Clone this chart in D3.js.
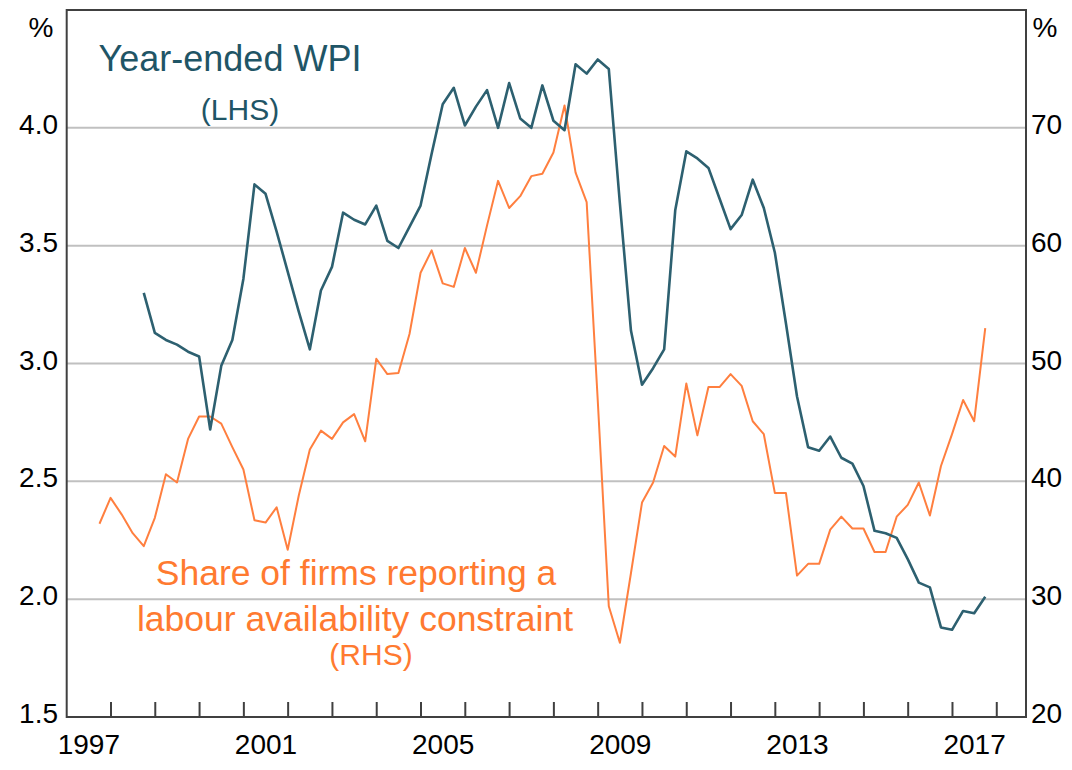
<!DOCTYPE html>
<html><head><meta charset="utf-8">
<script src="https://cdn.jsdelivr.net/npm/d3@7/dist/d3.min.js"></script>
<style>
body{margin:0;background:#fff}
svg{display:block}
text{font-family:Arial,"Liberation Sans",sans-serif}
</style>
</head><body>
<svg id="chart" width="1072" height="770"></svg>
<script>
// ---------- DATA ----------
// Year-ended WPI growth (LHS, %), quarterly from 1998 Q3
const wpiStart = [1998, 3];
const wpiValues = [
  3.30, 3.13,
  3.10, 3.08, 3.05, 3.03,
  2.72, 2.99, 3.10, 3.36,
  3.76, 3.72, 3.56, 3.39,
  3.22, 3.06, 3.31, 3.41,
  3.64, 3.61, 3.59, 3.67,
  3.52, 3.49, 3.58, 3.67,
  3.89, 4.10, 4.17, 4.01,
  4.09, 4.16, 4.00, 4.19,
  4.04, 4.00, 4.18, 4.03,
  3.99, 4.27, 4.23, 4.29,
  4.25, 3.68, 3.14, 2.91,
  2.98, 3.06, 3.65, 3.90,
  3.87, 3.83, 3.70, 3.57,
  3.63, 3.78, 3.66, 3.47,
  3.17, 2.86, 2.645, 2.63,
  2.69, 2.60, 2.575, 2.48,
  2.29, 2.28, 2.26, 2.17,
  2.07, 2.05, 1.88, 1.87,
  1.95, 1.94, 2.01
];
// Share of firms reporting a labour availability constraint (RHS, %), quarterly from 1997 Q3
const labourStart = [1997, 3];
const labourValues = [
  36.4, 38.6,
  37.2, 35.6, 34.5, 36.9,
  40.6, 39.9, 43.6, 45.5,
  45.5, 44.9, 42.9, 41.0,
  36.7, 36.5, 37.8, 34.2,
  38.8, 42.7, 44.3, 43.6,
  45.0, 45.7, 43.4, 50.4,
  49.1, 49.2, 52.5, 57.7,
  59.6, 56.8, 56.5, 59.8,
  57.7, 61.7, 65.5, 63.2,
  64.2, 65.9, 66.1, 67.9,
  71.9, 66.2, 63.7, 46.9,
  29.4, 26.3, 32.2, 38.2,
  39.9, 43.0, 42.1, 48.3,
  43.9, 48.0, 48.0, 49.1,
  48.1, 45.1, 44.0, 39.0,
  39.0, 32.0, 33.0, 33.0,
  35.9, 37.0, 36.0, 36.0,
  34.0, 34.0, 37.0, 38.0,
  39.9, 37.1, 41.3, 44.0,
  46.9, 45.1, 53.0
];
const leftTicks = [1.5, 2.0, 2.5, 3.0, 3.5, 4.0];
const rightTicks = [20, 30, 40, 50, 60, 70];
const gridTicks = [2.0, 2.5, 3.0, 3.5, 4.0];
const yearTicks = d3.range(1998, 2019);
const yearLabels = [1997, 2001, 2005, 2009, 2013, 2017];

// ---------- LAYOUT ----------
const L = 66.7, R = 1026, T = 10, B = 717;
const svg = d3.select("#chart");
svg.append("rect").attr("width", 1072).attr("height", 770).attr("fill", "#fff");

const x = d3.scaleLinear().domain([1997, 2018.66]).range([L, R]);
const yL = d3.scaleLinear().domain([1.5, 4.5]).range([B, T]);
const yR = d3.scaleLinear().domain([20, 80]).range([B, T]);

function toSeries(start, vals) {
  return vals.map((v, i) => {
    const qi = (start[1] - 1) + i;
    const yr = start[0] + Math.floor(qi / 4);
    const q = (qi % 4) + 1;
    return { t: yr + q / 4 - 0.01, v };
  });
}
const wpi = toSeries(wpiStart, wpiValues);
const labour = toSeries(labourStart, labourValues);

// gridlines
svg.append("g").selectAll("line").data(gridTicks).join("line")
  .attr("x1", L).attr("x2", R)
  .attr("y1", d => yL(d)).attr("y2", d => yL(d))
  .attr("stroke", "#c0c0c0").attr("stroke-width", 2);

// lines
const lineL = d3.line().x(d => x(d.t)).y(d => yL(d.v));
const lineR = d3.line().x(d => x(d.t)).y(d => yR(d.v));
svg.append("path").datum(labour).attr("d", lineR)
  .attr("fill", "none").attr("stroke", "#ff7f3f").attr("stroke-width", 2)
  .attr("stroke-linejoin", "round");
svg.append("path").datum(wpi).attr("d", lineL)
  .attr("fill", "none").attr("stroke", "#2d6070").attr("stroke-width", 2.6)
  .attr("stroke-linejoin", "round");

// frame
svg.append("rect").attr("x", L).attr("y", T).attr("width", R - L).attr("height", B - T)
  .attr("fill", "none").attr("stroke", "#404040").attr("stroke-width", 2);

// year ticks (inward)
svg.append("g").selectAll("line").data(yearTicks).join("line")
  .attr("x1", d => x(d)).attr("x2", d => x(d))
  .attr("y1", B).attr("y2", B - 15)
  .attr("stroke", "#404040").attr("stroke-width", 2);

// axis labels
const fs = 28;
svg.append("g").selectAll("text").data(leftTicks).join("text")
  .attr("x", 58).attr("y", d => yL(d) + 6).attr("text-anchor", "end")
  .attr("font-size", fs).attr("fill", "#000").text(d => d.toFixed(1));
svg.append("g").selectAll("text").data(rightTicks).join("text")
  .attr("x", 1031).attr("y", d => yR(d) + 6).attr("text-anchor", "start")
  .attr("font-size", fs).attr("fill", "#000").text(d => d);
svg.append("g").selectAll("text").data(yearLabels).join("text")
  .attr("x", d => x(d + 0.5)).attr("y", 754).attr("text-anchor", "middle")
  .attr("font-size", fs).attr("fill", "#000").text(d => d);
svg.append("text").attr("x", 41).attr("y", 37).attr("text-anchor", "middle")
  .attr("font-size", fs).text("%");
svg.append("text").attr("x", 1045).attr("y", 37).attr("text-anchor", "middle")
  .attr("font-size", fs).text("%");

// series labels
const teal = "#1f5566", orange = "#ff7a30";
svg.append("text").attr("x", 230).attr("y", 71).attr("text-anchor", "middle")
  .attr("font-size", 36).attr("fill", teal).text("Year-ended WPI");
svg.append("text").attr("x", 240).attr("y", 120).attr("text-anchor", "middle")
  .attr("font-size", 30).attr("fill", teal).text("(LHS)");
svg.append("text").attr("x", 356).attr("y", 585).attr("text-anchor", "middle")
  .attr("font-size", 35.5).attr("fill", orange).text("Share of firms reporting a");
svg.append("text").attr("x", 355).attr("y", 631).attr("text-anchor", "middle")
  .attr("font-size", 35.5).attr("fill", orange).text("labour availability constraint");
svg.append("text").attr("x", 371).attr("y", 665).attr("text-anchor", "middle")
  .attr("font-size", 30).attr("fill", orange).text("(RHS)");
</script>
</body></html>
